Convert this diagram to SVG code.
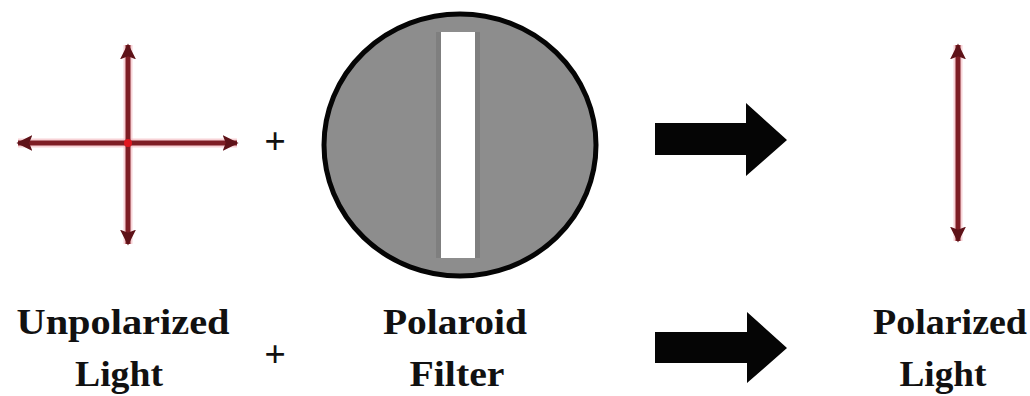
<svg xmlns="http://www.w3.org/2000/svg" width="1030" height="396" viewBox="0 0 1030 396">
  <style>
    .lbl { font-family: "Liberation Serif", "Times New Roman", serif; font-weight: bold; font-size: 35px; fill: #111; text-anchor: middle; }
    .plus { font-family: "Liberation Serif", "Times New Roman", serif; font-weight: bold; font-size: 38px; fill: #111; text-anchor: middle; }
    .ray { stroke: #7e1d24; stroke-width: 5; fill: none; stroke-linecap: butt; }
    .halo { stroke: #f3b6bd; stroke-width: 9; fill: none; opacity: 0.6; }
    .bigarrow { fill: #050505; }
  </style>
  <defs>
    <marker id="head" viewBox="0 0 10 10" refX="9" refY="5" markerWidth="3.2" markerHeight="3.2" orient="auto-start-reverse" markerUnits="strokeWidth">
      <path d="M0,0 L10,5 L0,10 L2,5 Z" fill="#5e1218"/>
    </marker>
  </defs>
  <rect width="1030" height="396" fill="#ffffff"/>

  <g id="unpolarized-light">
    <line class="halo" x1="18" y1="143" x2="237" y2="143"/>
    <line class="halo" x1="128" y1="45" x2="128" y2="244"/>
    <line class="ray" x1="18" y1="143" x2="237" y2="143" marker-start="url(#head)" marker-end="url(#head)"/>
    <line class="ray" x1="128" y1="45" x2="128" y2="244" marker-start="url(#head)" marker-end="url(#head)"/>
    <circle cx="128" cy="143" r="4" fill="#e0161f"/>
    <text class="lbl" x="123" y="334" textLength="213" lengthAdjust="spacingAndGlyphs">Unpolarized</text>
    <text class="lbl" x="119" y="386" textLength="88" lengthAdjust="spacingAndGlyphs">Light</text>
  </g>

  <g id="plus-top">
    <text class="plus" x="275" y="154">+</text>
  </g>
  <g id="plus-bottom">
    <text class="plus" x="275" y="367">+</text>
  </g>

  <g id="polaroid-filter">
    <ellipse cx="460" cy="145" rx="136" ry="131" fill="#8d8d8d" stroke="#050505" stroke-width="5"/>
    <rect x="441" y="32" width="34" height="226" fill="#ffffff"/>
    <rect x="436" y="32" width="5" height="226" fill="#7f7f7f"/>
    <rect x="475" y="32" width="5" height="226" fill="#7f7f7f"/>
    <text class="lbl" x="455" y="334" textLength="144" lengthAdjust="spacingAndGlyphs">Polaroid</text>
    <text class="lbl" x="457" y="386" textLength="95" lengthAdjust="spacingAndGlyphs">Filter</text>
  </g>

  <g id="polarized-light">
    <line class="halo" x1="958" y1="45" x2="958" y2="241"/>
    <line class="ray" x1="958" y1="45" x2="958" y2="241" stroke="#8e1a28" marker-start="url(#head)" marker-end="url(#head)"/>
    <text class="lbl" x="950" y="334" textLength="154" lengthAdjust="spacingAndGlyphs">Polarized</text>
    <text class="lbl" x="943" y="386" textLength="87" lengthAdjust="spacingAndGlyphs">Light</text>
  </g>

  <g id="connectors">
    <polygon class="bigarrow" points="655,123 746,123 746,103 787,140 746,176 746,155 655,155"/>
    <polygon class="bigarrow" points="655,332 747,332 747,312 787,348 747,383 747,363 655,363"/>
  </g>
</svg>
